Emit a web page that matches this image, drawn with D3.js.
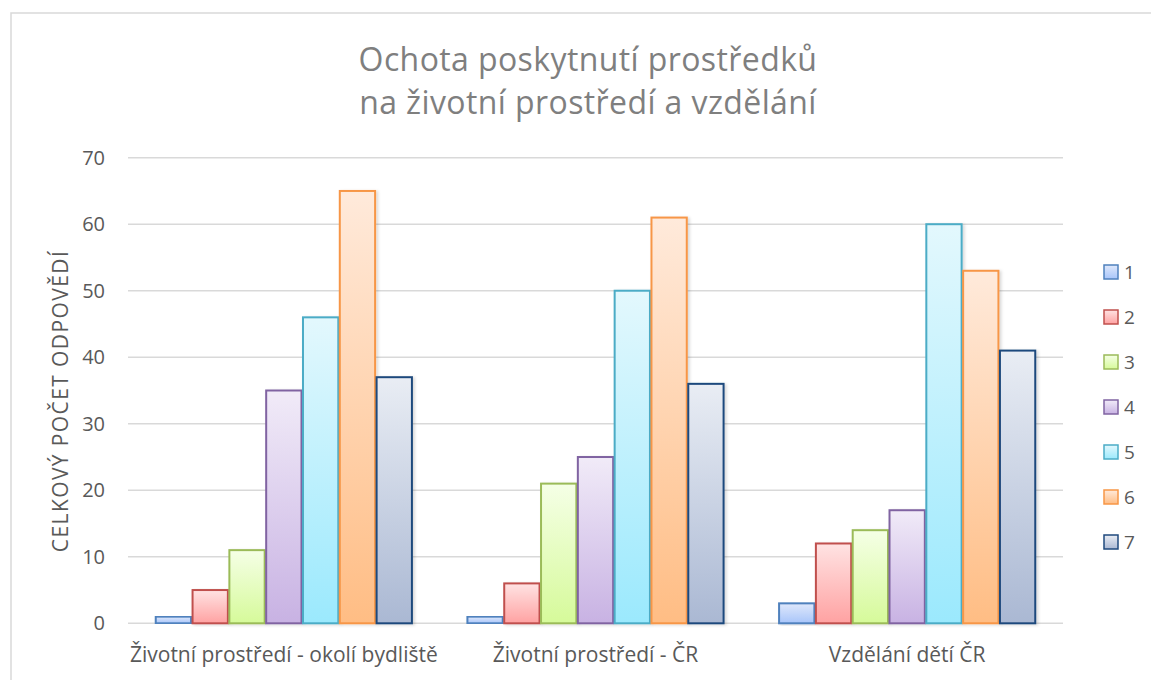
<!DOCTYPE html>
<html>
<head>
<meta charset="utf-8">
<script src="https://cdn.jsdelivr.net/npm/d3@7"></script>
<style>
  body { margin: 0; background: #fff; }
  text { font-family: "Open Sans", sans-serif; fill: #595959; }
</style>
</head>
<body>
<div id="chart"></div>
<script>
// categories and series
const groups = ["Životní prostředí - okolí bydliště", "Životní prostředí - ČR", "Vzdělání dětí ČR"];
const seriesNames = ["1", "2", "3", "4", "5", "6", "7"];
// values per series, one per group
const s1 = [1, 1, 3];
const s2 = [5, 6, 12];
const s3 = [11, 21, 14];
const s4 = [35, 25, 17];
const s5 = [46, 50, 60];
const s6 = [65, 61, 53];
const s7 = [37, 36, 41];
const yTicks = [0, 10, 20, 30, 40, 50, 60, 70];

const strokes = ["#4f81bd", "#c0504d", "#9bbb59", "#8064a2", "#4bacc6", "#f79646", "#1f497d"];
const topFill = ["#dfe8fb", "#ffe3e3", "#f5ffe6", "#f1ebf8", "#e3f8fd", "#ffeadb", "#e9edf4"];
const botFill = ["#a8c5fa", "#ffa2a2", "#d6fa9a", "#c8b2e3", "#9be9fd", "#ffbd84", "#aab8d3"];

const allSeries = [s1, s2, s3, s4, s5, s6, s7];

const W = 1151, H = 680;
const plot = { left: 128, right: 1063, top: 157.7, bottom: 623.3 };

const svg = d3.select("#chart").append("svg")
    .attr("width", W).attr("height", H);

const defs = svg.append("defs");
seriesNames.forEach((s, i) => {
    const g = defs.append("linearGradient")
        .attr("id", "grad" + i)
        .attr("x1", 0).attr("y1", 0).attr("x2", 0).attr("y2", 1);
    g.append("stop").attr("offset", "0%").attr("stop-color", topFill[i]);
    g.append("stop").attr("offset", "100%").attr("stop-color", botFill[i]);
});
const shadow = defs.append("filter").attr("id", "shadow")
    .attr("x", "-20%").attr("y", "-5%").attr("width", "150%").attr("height", "115%");
shadow.append("feDropShadow")
    .attr("dx", 2).attr("dy", 1).attr("stdDeviation", 1.5)
    .attr("flood-color", "#000").attr("flood-opacity", 0.15);

// chart frame
svg.append("rect")
    .attr("x", 11).attr("y", 13)
    .attr("width", W + 20).attr("height", H + 20)
    .attr("fill", "none").attr("stroke", "#d9d9d9").attr("stroke-width", 1.5);

// scales
const x0 = d3.scaleBand().domain(groups).range([plot.left, plot.right]).padding(0);
const x1 = d3.scaleBand().domain(seriesNames)
    .range([27, x0.bandwidth() - 27]).padding(0);
const y = d3.scaleLinear().domain([0, 70]).range([plot.bottom, plot.top]);

// gridlines
svg.append("g")
    .selectAll("line")
    .data(yTicks)
    .enter().append("line")
    .attr("x1", plot.left).attr("x2", plot.right)
    .attr("y1", d => y(d)).attr("y2", d => y(d))
    .attr("stroke", "#d9d9d9").attr("stroke-width", 1.5);

// y axis labels
const yAxis = svg.append("g")
    .attr("transform", `translate(${plot.left}, 0)`)
    .call(d3.axisLeft(y).tickValues(yTicks).tickSize(0).tickPadding(23));
yAxis.select(".domain").remove();
yAxis.selectAll("text")
    .style("font-size", "20px")
    .attr("fill", "#595959")
    .style("font-family", "'Open Sans', sans-serif");

// y axis title
svg.append("text")
    .attr("transform", `translate(68, 401) rotate(-90)`)
    .style("text-anchor", "middle")
    .style("font-size", "21px")
    .style("letter-spacing", "1.4px")
    .text("CELKOVÝ POČET ODPOVĚDÍ");

// x axis labels
const xAxis = svg.append("g")
    .attr("transform", `translate(0, ${plot.bottom})`)
    .call(d3.axisBottom(x0).tickSize(0).tickPadding(24));
xAxis.select(".domain").remove();
xAxis.selectAll("text")
    .style("font-size", "21px")
    .attr("fill", "#595959")
    .style("font-family", "'Open Sans', sans-serif");

// bars
const groupG = svg.append("g").selectAll("g")
    .data(groups)
    .enter().append("g")
    .attr("transform", d => `translate(${x0(d)}, 0)`);

groupG.selectAll("rect")
    .data((g, gi) => seriesNames.map((s, si) => ({ s, si, v: allSeries[si][gi] })))
    .enter().append("rect")
    .attr("x", d => x1(d.s) + 0.75)
    .attr("y", d => y(d.v))
    .attr("width", x1.bandwidth() - 1.5)
    .attr("height", d => y(0) - y(d.v))
    .attr("fill", d => `url(#grad${d.si})`)
    .attr("stroke", d => strokes[d.si])
    .attr("stroke-width", 2)
    .attr("filter", "url(#shadow)");

// title
const title = svg.append("text")
    .style("text-anchor", "middle")
    .style("font-size", "32px")
    .style("letter-spacing", "0.4px")
    .style("fill", "#7f7f7f");
title.append("tspan").attr("x", 588).attr("y", 71).text("Ochota poskytnutí prostředků");
title.append("tspan").attr("x", 588).attr("y", 114).text("na životní prostředí a vzdělání");

// legend
const legend = svg.append("g")
    .attr("transform", "translate(1104, 272)");
const item = legend.selectAll("g")
    .data(seriesNames)
    .enter().append("g")
    .attr("transform", (d, i) => `translate(0, ${i * 45})`);
item.append("rect")
    .attr("x", 0).attr("y", -7)
    .attr("width", 14).attr("height", 14)
    .attr("fill", (d, i) => `url(#grad${i})`)
    .attr("stroke", (d, i) => strokes[i])
    .attr("stroke-width", 1.5);
item.append("text")
    .attr("x", 20).attr("y", 0)
    .attr("dy", "0.35em")
    .style("font-size", "19px")
    .text(d => d);
</script>
</body>
</html>
